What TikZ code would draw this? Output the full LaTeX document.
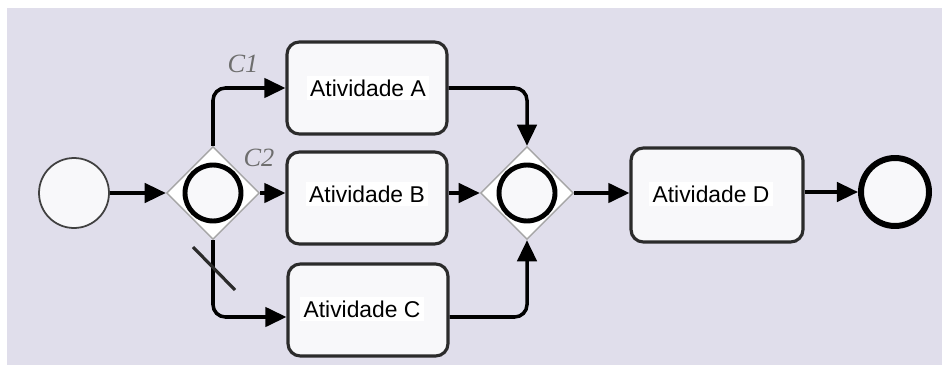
\documentclass[tikz,border=0pt]{standalone}
\usepackage{fontspec}
\setmainfont{Liberation Sans}
\newfontfamily\condfont{Liberation Serif}
\usetikzlibrary{shapes.geometric,arrows.meta}
\definecolor{bgLilac}{HTML}{E0DEEB}
\definecolor{boxFill}{HTML}{F8F8FA}
\definecolor{boxLine}{HTML}{2B2B2B}
\definecolor{condGray}{HTML}{6E6E6E}
\begin{document}
\begin{tikzpicture}[x=0.02cm,y=-0.02cm,
  activity/.style={rectangle, rounded corners=7pt, draw=boxLine, line width=1.8pt, fill=boxFill, minimum width=3.2cm, minimum height=1.84cm},
  acttext/.style={rectangle, fill=white, inner sep=2pt, font=\fontsize{13}{15}\selectfont},
  gateway/.style={diamond, aspect=1, draw=gray!70, line width=0.8pt, fill=white, minimum width=1.86cm, minimum height=1.86cm, inner sep=0pt},
  gatering/.style={circle, draw=black, line width=2.8pt, fill=boxFill, minimum size=1.12cm, inner sep=0pt},
  flow/.style={-{Triangle[length=12pt,width=11pt]}, line width=2pt, rounded corners=7pt},
  cond/.style={draw=none, text=condGray, font=\condfont\itshape\fontsize{15}{17}\selectfont}]
% \draw[help lines, step=50] (0,0) grid (942,365);
\useasboundingbox (0,0) rectangle (942,365);
\fill[white] (0,0) rectangle (942,365);
\fill[bgLilac] (7,8) rectangle (942,365);
%%%%%%%%%%%%%%%%%%%%%%%%%%%%%%% events
\node[circle, draw=black!75, line width=1pt, fill=boxFill, minimum size=1.4cm](evStart) at (74,193){};
\node[circle, draw=black, line width=3.4pt, fill=boxFill, minimum size=1.36cm](evEnd) at (895,192){};
%%%%%%%%%%%%%%%%%%%%%%%%%%%%%%% gateways
\node[gateway](gSplit) at (213,193){};
\node[gatering](gSplitRing) at (213,193){};
\node[gateway](gJoin) at (527,193){};
\node[gatering](gJoinRing) at (527,193){};
%%%%%%%%%%%%%%%%%%%%%%%%%%%%%%% activities
\node[activity](actA) at (367,88){};
\node[acttext](txtA) at (368,88){Atividade A};
\node[activity](actB) at (367,198){};
\node[acttext](txtB) at (367,194){Atividade B};
\node[activity](actC) at (368,310){};
\node[acttext](txtC) at (362,309){Atividade C};
\node[activity, minimum width=3.44cm, minimum height=1.88cm](actD) at (717,195){};
\node[acttext](txtD) at (711,194){Atividade D};
%%%%%%%%%%%%%%%%%%%%%%%%%%%%%%% flows
\draw[flow] (evStart) -- (gSplit.west);
\draw[flow] (gSplit.north) |- (actA.west |- 0,88);
\node[cond](cOne) at (243,64){C1};
\draw[flow] (gSplit.east) -- (actB.west |- gSplit.east);
\node[cond](cTwo) at (259,158){C2};
\draw[flow] (gSplit.south) |- (actC.west |- 0,317);
\coordinate (slashA) at (193,247);
\coordinate (slashB) at (235,290);
\draw[line width=1.8pt, boxLine] (slashA) -- (slashB);
\draw[flow] (actA.east |- 0,88) -| (gJoin.north);
\draw[flow] (actB.east |- gJoin.west) -- (gJoin.west);
\draw[flow] (actC.east |- 0,317) -| (gJoin.south);
\draw[flow] (gJoin.east) -- (actD.west |- gJoin.east);
\draw[flow] (actD.east |- evEnd.west) -- (evEnd.west);
\end{tikzpicture}
\end{document}
